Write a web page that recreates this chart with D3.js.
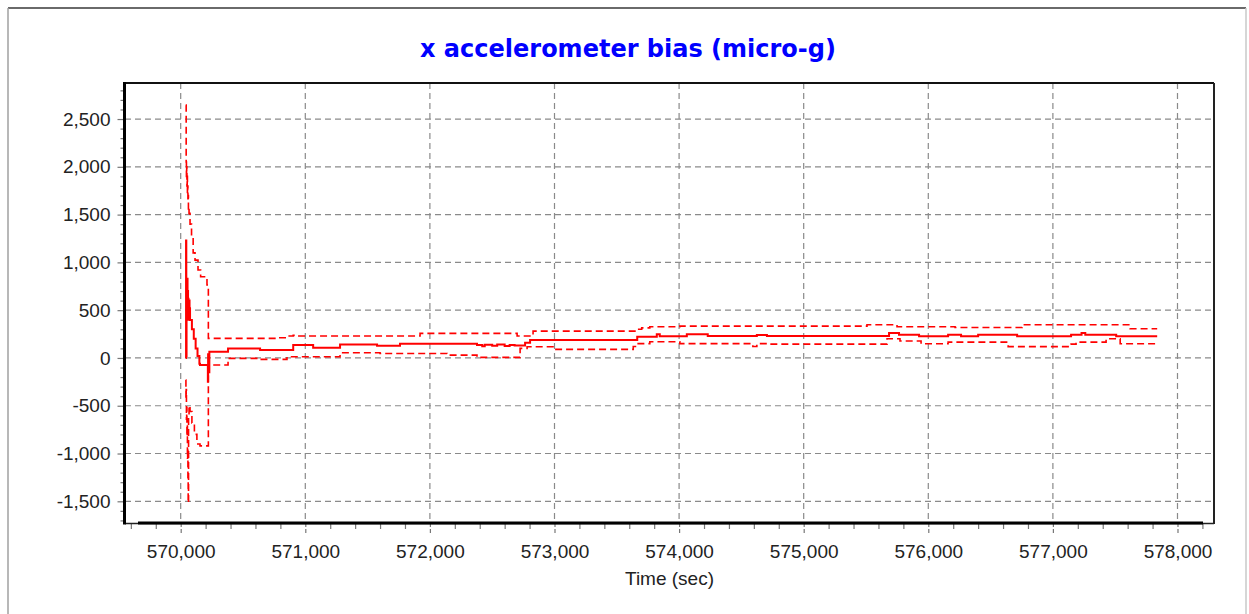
<!DOCTYPE html>
<html><head><meta charset="utf-8">
<script src="https://cdn.jsdelivr.net/npm/d3@7"></script>
<style>
html,body{margin:0;padding:0;background:#fff;}
svg{display:block;}
</style></head>
<body><svg id="chart" width="1249" height="614"></svg>
<script>
// ---------- data ----------
const titleText = "x accelerometer bias (micro-g)";
const xLabel = "Time (sec)";
const xMajorTicks = [570000, 571000, 572000, 573000, 574000, 575000, 576000, 577000, 578000];
const yMajorTicks = [-1500, -1000, -500, 0, 500, 1000, 1500, 2000, 2500];

// mean estimate (solid)
const meanT = [570040,570043,570045,570047,570049,570051,570053,570055,570057,570059,570061,570063,570065,570067,570069,570071,570073,570075,570090,570105,570120,570135,570150,570155,570216,570218,570220,570222,570230,570380,570637,570781,570903,571063,571279,571576,571760,572378,572420,572440,572500,572540,572600,572640,572680,572764,572804,573664,573821,573845,574062,574230,574624,574705,575685,575765,575926,576159,576263,576400,576713,577146,577230,577260,577508,577837];
const meanV = [0,1230,20,560,820,420,830,450,700,480,620,400,560,430,600,420,520,397,300,200,100,20,-60,-75,-75,-250,40,-150,65,100,83,83,135,107,142,128,149,135,122,138,128,140,126,136,130,160,187,222,247,227,247,229,240,229,260,243,226,243,226,243,226,243,260,243,226,226];

// upper bound (dashed)
const upperT = [570040,570044,570046,570048,570050,570052,570054,570056,570058,570060,570062,570064,570067,570075,570087,570100,570115,570139,570160,570211,570222,570781,570853,570903,570940,571921,572700,572828,573664,573700,573765,574006,575508,575749,576215,576753,577620,577837];
const upperV = [2645,2050,1900,2000,1800,1900,1720,1800,1640,1700,1560,1580,1513,1400,1268,1100,1024,920,850,763,205,212,229,236,229,257,229,281,300,315,326,333,348,326,318,348,306,306];

// lower bound (dashed)
const lowerT = [570040,570042,570044,570046,570048,570050,570052,570054,570056,570058,570060,570063,570067,570075,570090,570110,570130,570155,570222,570380,570637,570853,571279,571600,572138,572378,572724,572780,572988,573606,573632,573664,573765,574006,574592,574624,574705,575669,575773,575942,576159,576641,577146,577186,577427,577540,577837];
const lowerV = [-231,-420,-330,-640,-520,-820,-700,-1050,-950,-1300,-1518,-600,-500,-560,-680,-800,-900,-920,-74,-4,-15,13,54,47,30,6,100,117,90,90,120,150,170,150,120,150,145,201,177,149,166,119,145,166,201,149,149];

// ---------- layout ----------
const svg = d3.select("#chart");
const W = 1249, H = 614;
const plot = {left:125, right:1214, top:83, bottom:523};

const x = d3.scaleLinear().domain([569553, 578293]).range([plot.left, plot.right]);
const y = d3.scaleLinear().domain([-1727, 2877]).range([plot.bottom, plot.top]);
const fmt = v => d3.format(",")(v).replace("\u2212", "-");

// outer border
svg.append("line").attr("x1",8).attr("x2",1246).attr("y1",8).attr("y2",8).attr("stroke","#6a6a6a").attr("stroke-width",2);
svg.append("line").attr("x1",8).attr("x2",8).attr("y1",8).attr("y2",H).attr("stroke","#a0a0a0").attr("stroke-width",1.5);
svg.append("line").attr("x1",1246).attr("x2",1246).attr("y1",8).attr("y2",H).attr("stroke","#c8c8c8").attr("stroke-width",1.5);

// title
svg.append("text").attr("x",628).attr("y",57).attr("text-anchor","middle")
  .attr("font-family","'DejaVu Sans', sans-serif").attr("font-weight","bold").attr("font-size",24)
  .attr("fill","#0000ff").text(titleText);

// grid
const gridColor = "#8a8a8a";
const g = svg.append("g");
g.selectAll(".hg").data(yMajorTicks).join("line")
  .attr("x1",plot.left).attr("x2",plot.right)
  .attr("y1",d=>y(d)).attr("y2",d=>y(d))
  .attr("stroke",gridColor).attr("stroke-width",1.2).attr("stroke-dasharray","6,4");
g.selectAll(".vg").data(xMajorTicks).join("line")
  .attr("x1",d=>x(d)).attr("x2",d=>x(d))
  .attr("y1",plot.top).attr("y2",plot.bottom)
  .attr("stroke",gridColor).attr("stroke-width",1.2).attr("stroke-dasharray","6,4");

// axes (ticks and labels)
const xMinor = d3.range(569600, 578300, 200).filter(v => v % 1000 !== 0);
const yMinor = d3.range(-1700, 2900, 100).filter(v => v % 500 !== 0);

const xAxis = svg.append("g").attr("transform",`translate(0,${plot.bottom})`)
  .call(d3.axisBottom(x).tickValues(xMajorTicks).tickSize(10).tickPadding(12).tickFormat(fmt));
const xAxisMinor = svg.append("g").attr("transform",`translate(0,${plot.bottom})`)
  .call(d3.axisBottom(x).tickValues(xMinor).tickSize(6).tickFormat(""));
const yAxis = svg.append("g").attr("transform",`translate(${plot.left-0.5},0)`)
  .call(d3.axisLeft(y).tickValues(yMajorTicks).tickSize(7).tickPadding(7).tickFormat(fmt));
const yAxisMinor = svg.append("g").attr("transform",`translate(${plot.left-0.5},0)`)
  .call(d3.axisLeft(y).tickValues(yMinor).tickSize(4).tickFormat(""));

[xAxis,xAxisMinor,yAxis,yAxisMinor].forEach(a=>{
  a.select(".domain").remove();
  a.selectAll("line").attr("stroke","#777").attr("stroke-width",1.2);
  a.selectAll("text").attr("font-family","'Liberation Sans', Arial, sans-serif").attr("font-size",19).attr("fill","#222");
});
xAxis.selectAll("line").attr("stroke-dasharray","4,2");

// x label
svg.append("text").attr("x",(plot.left+plot.right)/2).attr("y",585).attr("text-anchor","middle")
  .attr("font-family","'Liberation Sans', Arial, sans-serif").attr("font-size",19).attr("fill","#222").text(xLabel);

// frame
svg.append("line").attr("x1",plot.left).attr("x2",plot.right).attr("y1",plot.top).attr("y2",plot.top).attr("stroke","#111").attr("stroke-width",2);
svg.append("line").attr("x1",plot.right).attr("x2",plot.right).attr("y1",plot.top).attr("y2",plot.bottom+1).attr("stroke","#222").attr("stroke-width",2);
svg.append("line").attr("x1",plot.left).attr("x2",plot.right).attr("y1",plot.bottom+0.5).attr("y2",plot.bottom+0.5).attr("stroke","#222").attr("stroke-width",1.5);
svg.append("line").attr("x1",plot.left-0.5).attr("x2",plot.left-0.5).attr("y1",plot.top-1).attr("y2",plot.bottom+1.5).attr("stroke","#000").attr("stroke-width",3);
svg.append("line").attr("x1",138).attr("x2",1203).attr("y1",plot.bottom).attr("y2",plot.bottom).attr("stroke","#000").attr("stroke-width",3);

// series
const line = d3.line().x(d=>x(d[0])).y(d=>y(d[1])).curve(d3.curveStepAfter);
const zip = (T,V)=>T.map((t,i)=>[t,V[i]]);
svg.append("path").datum(zip(upperT,upperV)).attr("d",line).attr("fill","none")
  .attr("stroke","#ff0000").attr("stroke-width",1.6).attr("stroke-dasharray","7,4");
svg.append("path").datum(zip(lowerT,lowerV)).attr("d",line).attr("fill","none")
  .attr("stroke","#ff0000").attr("stroke-width",1.6).attr("stroke-dasharray","7,4");
svg.append("path").datum(zip(meanT,meanV)).attr("d",line).attr("fill","none")
  .attr("stroke","#ff0000").attr("stroke-width",2);
</script></body></html>
